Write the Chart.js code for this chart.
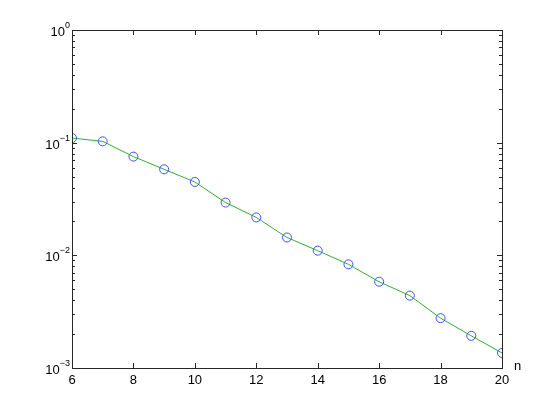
<!DOCTYPE html>
<html>
<head>
<meta charset="utf-8">
<script src="https://cdn.jsdelivr.net/npm/chart.js@4.4.1/dist/chart.umd.min.js"></script>
<style>
html,body{margin:0;padding:0;background:#fff;}
#wrap{width:554px;height:415px;position:relative;}
</style>
</head>
<body>
<div id="wrap"><canvas id="c" width="554" height="415"></canvas></div>
<script>
const nValues = [6, 7, 8, 9, 10, 11, 12, 13, 14, 15, 16, 17, 18, 19, 20];
const errValues = [0.110, 0.1027, 0.0752, 0.0580, 0.0448, 0.0294, 0.0217, 0.0144, 0.0110, 0.00832, 0.00583, 0.00439, 0.00277, 0.00193, 0.00136];
const xTicks = [6, 8, 10, 12, 14, 16, 18, 20];
const yTicks = [1, 0.1, 0.01, 0.001];
const yTickExps = ['0', '\u22121', '\u22122', '\u22123'];
const xAxisLabel = 'n';

const FONT = '"Liberation Sans", Arial, Helvetica, sans-serif';
const AXIS = '#262626';

const pts = nValues.map((n, i) => ({x: n, y: errValues[i]}));

const matlabAxes = {
  id: 'matlabAxes',
  afterDatasetsDraw(chart) {
    const ctx = chart.ctx;
    const xs = chart.scales.x, ys = chart.scales.y;
    const ca = chart.chartArea;
    ctx.save();
    ctx.strokeStyle = AXIS;
    ctx.lineWidth = 1;
    // box
    ctx.strokeRect(Math.round(ca.left) + 0.5, Math.round(ca.top) + 0.5,
                   Math.round(ca.right - ca.left), Math.round(ca.bottom - ca.top));
    // x ticks inward top & bottom
    ctx.beginPath();
    xTicks.forEach(v => {
      const px = Math.round(xs.getPixelForValue(v)) + 0.5;
      ctx.moveTo(px, ca.bottom); ctx.lineTo(px, ca.bottom - 5);
      ctx.moveTo(px, ca.top); ctx.lineTo(px, ca.top + 5);
    });
    // y ticks major & minor, left & right
    for (let d = 0; d < yTicks.length - 1; d++) {
      const base = yTicks[d + 1];
      for (let m = 1; m <= 9; m++) {
        const v = base * m;
        const py = Math.round(ys.getPixelForValue(v)) + 0.5;
        const len = m === 1 ? 5 : 3;
        ctx.moveTo(ca.left, py); ctx.lineTo(ca.left + len, py);
        ctx.moveTo(ca.right, py); ctx.lineTo(ca.right - len, py);
      }
    }
    const pTop = Math.round(ys.getPixelForValue(yTicks[0])) + 0.5;
    ctx.moveTo(ca.left, pTop); ctx.lineTo(ca.left + 5, pTop);
    ctx.moveTo(ca.right, pTop); ctx.lineTo(ca.right - 5, pTop);
    ctx.stroke();

    // x tick labels
    ctx.fillStyle = '#000';
    ctx.font = '13px ' + FONT;
    ctx.textAlign = 'center';
    ctx.textBaseline = 'top';
    xTicks.forEach(v => {
      ctx.fillText(String(v), xs.getPixelForValue(v), ca.bottom + 6);
    });
    // y tick labels: 10 with superscript exponent
    yTicks.forEach((v, i) => {
      const py = ys.getPixelForValue(v);
      const exp = yTickExps[i];
      ctx.font = '9px ' + FONT;
      const ew = ctx.measureText(exp).width;
      const right = ca.left - 2;
      ctx.textAlign = 'left';
      ctx.textBaseline = 'alphabetic';
      ctx.fillText(exp, right - ew, py - 2);
      ctx.font = '13px ' + FONT;
      ctx.textAlign = 'right';
      ctx.fillText('10', right - ew, py + 6);
    });
    // axis label n
    ctx.font = '13px ' + FONT;
    ctx.textAlign = 'left';
    ctx.textBaseline = 'middle';
    ctx.fillText(xAxisLabel, ca.right + 12, ca.bottom - 2);
    ctx.restore();
  }
};

new Chart(document.getElementById('c'), {
  type: 'line',
  data: {
    datasets: [
      {
        data: pts,
        borderColor: 'rgba(0,0,0,0)',
        backgroundColor: 'rgba(0,0,0,0)',
        showLine: false,
        pointStyle: 'circle',
        pointRadius: 4.5,
        pointBorderWidth: 1,
        pointBorderColor: '#3c50ff',
        pointBackgroundColor: 'rgba(0,0,0,0)',
        pointHoverRadius: 4.5
      },
      {
        data: pts,
        borderColor: '#2fae2f',
        borderWidth: 1,
        pointRadius: 0,
        fill: false,
        tension: 0
      }
    ]
  },
  options: {
    responsive: false,
    animation: false,
    events: [],
    layout: {padding: {left: 0, right: 52, top: 30, bottom: 0}},
    plugins: {legend: {display: false}, tooltip: {enabled: false}},
    scales: {
      x: {
        type: 'linear',
        min: 6, max: 20,
        grid: {display: false, drawTicks: false},
        border: {display: false},
        ticks: {display: false},
        afterFit(s) { s.height = 47; }
      },
      y: {
        type: 'logarithmic',
        min: 0.001, max: 1,
        grid: {display: false, drawTicks: false},
        border: {display: false},
        ticks: {display: false},
        afterBuildTicks(s) { s.ticks = yTicks.map(v => ({value: v})); },
        afterFit(s) { s.width = 72; }
      }
    }
  },
  plugins: [matlabAxes]
});
</script>
</body>
</html>
